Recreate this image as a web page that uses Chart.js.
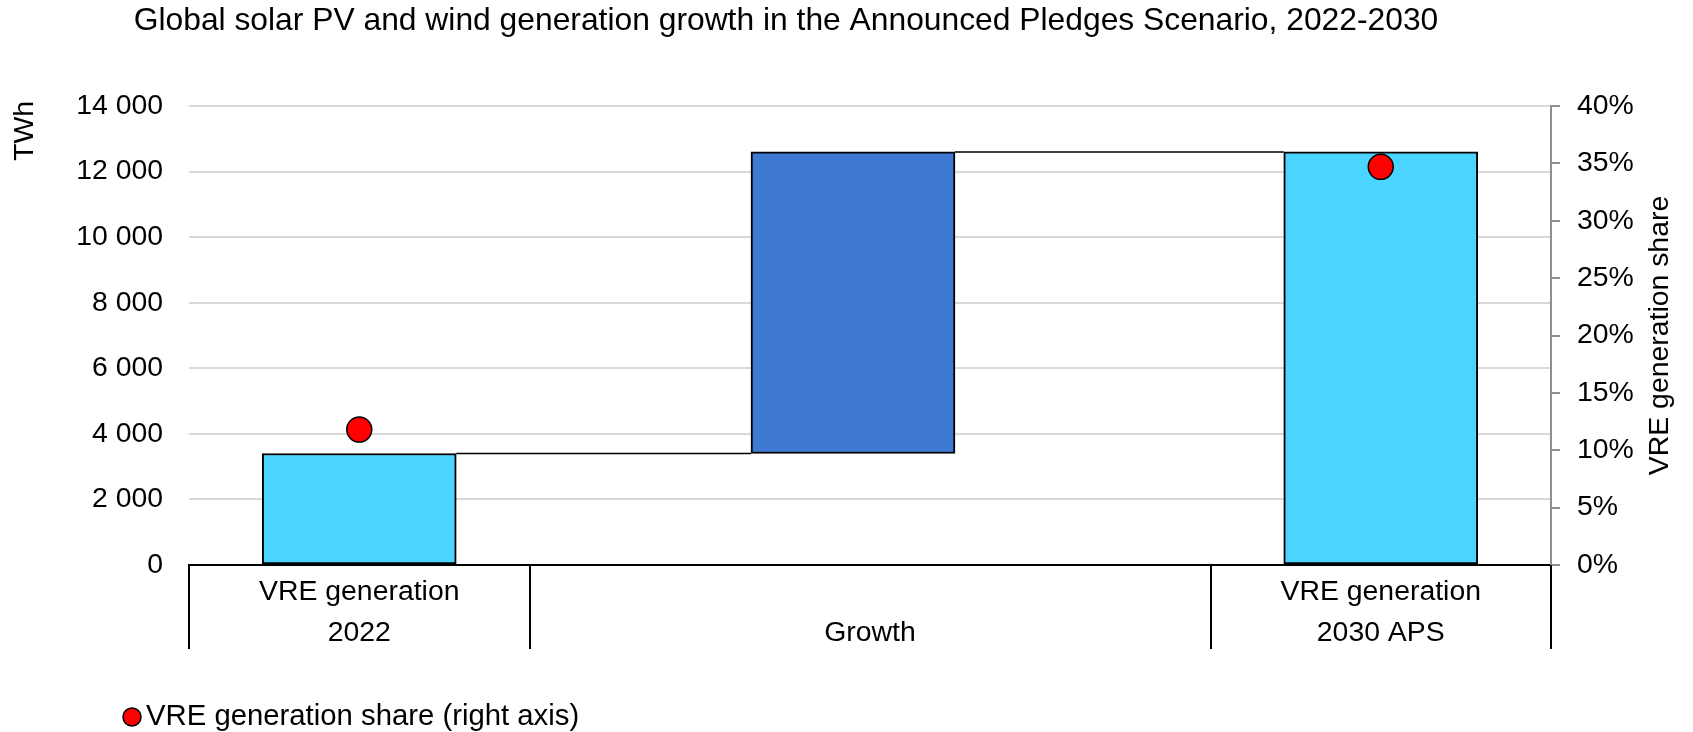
<!DOCTYPE html>
<html>
<head>
<meta charset="utf-8">
<title>Global solar PV and wind generation growth</title>
<script src="https://cdn.jsdelivr.net/npm/chart.js@4.4.0/dist/chart.umd.min.js"></script>
<style>
  html, body { margin: 0; padding: 0; background: #fff; }
  #wrap { width: 1693px; height: 732px; }
</style>
</head>
<body>
<div id="wrap"><canvas id="chart" width="1693" height="732"></canvas></div>
<script>
// Waterfall: VRE generation 2022 -> growth -> 2030 APS, share dots on the right axis
const titleText = 'Global solar PV and wind generation growth in the Announced Pledges Scenario, 2022-2030';
const categories = [['VRE generation', '2022'], ['', 'Growth'], ['VRE generation', '2030 APS']];
const categoryEdges = [0, 1, 3, 4];
const categoryCenters = [0.5, 2, 3.5];
const totalSlots = [0.5, 3.5];
const totals = [3400, 12600];          // TWh
const growthSlot = 1.95;
const growthRange = [3400, 12600];     // TWh, floating
const shareValues = [11.8, 34.7];      // % of generation
const leftTicks = [0, 2000, 4000, 6000, 8000, 10000, 12000, 14000];
const rightTicks = [0, 5, 10, 15, 20, 25, 30, 35, 40];

const FONT = "'Liberation Sans', Arial, sans-serif";
const LIGHT_BLUE = '#4AD4FF';
const DARK_BLUE = '#3E7AD4';
const AXIS_GREY = '#8f8f8f';

function spaced(n) {
    return String(n).replace(/\B(?=(\d{3})+(?!\d))/g, ' ');
}

// titles, connectors, group dividers and the legend
const extras = {
    id: 'extras',
    afterDatasetsDraw(chart) {
        const ctx = chart.ctx;
        const totalsBars = chart.getDatasetMeta(1).data;
        const growthBar = chart.getDatasetMeta(2).data[0];
        const a = totalsBars[0].getProps(['x', 'y', 'width'], true);
        const g = growthBar.getProps(['x', 'y', 'base', 'width'], true);
        const b = totalsBars[1].getProps(['x', 'y', 'width'], true);
        ctx.save();
        ctx.strokeStyle = '#000';
        ctx.lineWidth = 1.5;
        ctx.beginPath();
        ctx.moveTo(a.x + a.width / 2, a.y);
        ctx.lineTo(g.x - g.width / 2, a.y);
        ctx.moveTo(g.x + g.width / 2, g.y);
        ctx.lineTo(b.x - b.width / 2, g.y);
        ctx.stroke();
        ctx.restore();
    },
    afterDraw(chart) {
        const ctx = chart.ctx;
        const area = chart.chartArea;
        const xs = chart.scales.x;
        ctx.save();

        // group dividers under the axis
        ctx.strokeStyle = '#000';
        ctx.lineWidth = 2;
        ctx.beginPath();
        categoryEdges.forEach(e => {
            const px = Math.round(xs.getPixelForValue(e));
            ctx.moveTo(px, area.bottom);
            ctx.lineTo(px, area.bottom + 84);
        });
        ctx.stroke();

        ctx.fillStyle = '#000';
        ctx.textBaseline = 'middle';

        // chart title
        ctx.font = '31.8px ' + FONT;
        ctx.textAlign = 'center';
        ctx.fillText(titleText, 786, 21);

        // axis titles
        ctx.font = '28.4px ' + FONT;
        ctx.save();
        ctx.translate(25, area.top + 25);
        ctx.rotate(-Math.PI / 2);
        ctx.fillText('TWh', 0, 0);
        ctx.restore();
        ctx.save();
        ctx.translate(1660, (area.top + area.bottom) / 2);
        ctx.rotate(-Math.PI / 2);
        ctx.fillText('VRE generation share', 0, 0);
        ctx.restore();

        // legend
        ctx.beginPath();
        ctx.arc(132, 717, 9, 0, Math.PI * 2);
        ctx.fillStyle = '#FF0000';
        ctx.fill();
        ctx.lineWidth = 1.5;
        ctx.strokeStyle = '#000';
        ctx.stroke();
        ctx.fillStyle = '#000';
        ctx.textAlign = 'left';
        ctx.font = '29.3px ' + FONT;
        ctx.fillText(chart.data.datasets[0].label, 146, 717);
        ctx.restore();
    }
};

new Chart(document.getElementById('chart'), {
    data: {
        datasets: [
            {
                type: 'scatter',
                label: 'VRE generation share (right axis)',
                data: totalSlots.map((x, i) => ({ x, y: shareValues[i] })),
                yAxisID: 'y2',
                pointRadius: 12.5,
                pointBackgroundColor: '#FF0000',
                pointBorderColor: '#000',
                pointBorderWidth: 1.5,
                order: 0
            },
            {
                type: 'bar',
                label: 'VRE generation',
                data: totalSlots.map((x, i) => ({ x, y: totals[i] })),
                yAxisID: 'y',
                backgroundColor: LIGHT_BLUE,
                borderColor: '#000',
                borderWidth: 2,
                borderSkipped: false,
                barThickness: 194,
                grouped: false,
                order: 2
            },
            {
                type: 'bar',
                label: 'Growth',
                data: [{ x: growthSlot, y: growthRange }],
                yAxisID: 'y',
                backgroundColor: DARK_BLUE,
                borderColor: '#000',
                borderWidth: 2,
                borderSkipped: false,
                barThickness: 204,
                grouped: false,
                order: 2
            }
        ]
    },
    options: {
        responsive: false,
        devicePixelRatio: 1,
        animation: false,
        layout: { padding: { top: 106, bottom: 67, left: 0, right: 0 } },
        plugins: {
            legend: { display: false },
            title: { display: false },
            tooltip: { enabled: false }
        },
        scales: {
            x: {
                type: 'linear',
                min: 0,
                max: 4,
                offset: false,
                afterBuildTicks: axis => { axis.ticks = categoryCenters.map(v => ({ value: v })); },
                afterFit: s => { s.height = 100; },
                grid: { display: false, drawTicks: false, offset: false },
                border: { display: true, color: '#000', width: 2 },
                ticks: {
                    autoSkip: false,
                    maxRotation: 0,
                    padding: 6.5,
                    color: '#000',
                    font: { family: FONT, size: 28.4, lineHeight: 41 / 28.4 },
                    callback: (v, i) => categories[i]
                }
            },
            y: {
                position: 'left',
                min: 0,
                max: 14000,
                afterBuildTicks: axis => { axis.ticks = leftTicks.map(v => ({ value: v })); },
                afterFit: s => { s.width = 189; },
                grid: { color: '#d9d9d9', lineWidth: 2, drawTicks: false },
                border: { display: false },
                ticks: {
                    padding: 26,
                    color: '#000',
                    font: { family: FONT, size: 28.4 },
                    callback: v => spaced(v)
                }
            },
            y2: {
                position: 'right',
                min: 0,
                max: 40,
                afterBuildTicks: axis => { axis.ticks = rightTicks.map(v => ({ value: v })); },
                afterFit: s => { s.width = 142; },
                grid: { drawOnChartArea: false, drawTicks: true, tickLength: 9, color: AXIS_GREY, lineWidth: 2 },
                border: { display: true, color: AXIS_GREY, width: 2 },
                ticks: {
                    padding: 17,
                    color: '#000',
                    font: { family: FONT, size: 28.4 },
                    callback: v => v + '%'
                }
            }
        }
    },
    plugins: [extras]
});
</script>
</body>
</html>
